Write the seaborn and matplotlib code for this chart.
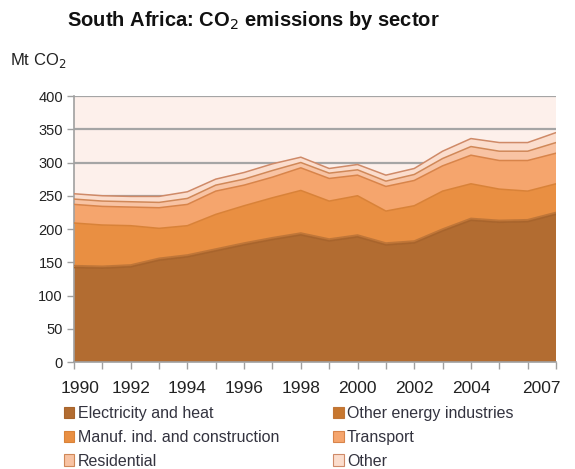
import matplotlib
matplotlib.use("Agg")
import matplotlib.pyplot as plt
from matplotlib.patches import Patch
from matplotlib.transforms import ScaledTranslation
import numpy as np
import pandas as pd
import seaborn as sns

years = list(range(1990, 2008))
electricity = [142, 141, 143, 153, 158, 167, 176, 184, 191, 182, 188, 176, 179, 197, 213, 210, 211, 222]
other_energy = [3, 3, 3, 3, 3, 3, 3, 3, 3, 3, 3, 3, 3, 3, 3, 3, 3, 3]
manufacturing = [64, 62, 59, 45, 44, 52, 56, 60, 64, 57, 59, 48, 53, 57, 52, 47, 43, 43]
transport = [28, 28, 28, 31, 32, 35, 31, 31, 34, 34, 31, 37, 38, 38, 43, 43, 46, 46]
residential = [8, 8, 8, 8, 9, 9, 9, 10, 8, 8, 8, 8, 9, 11, 13, 14, 14, 16]
other = [8, 8, 8, 9, 10, 9, 10, 10, 8, 7, 8, 9, 9, 11, 12, 13, 13, 15]

sectors = ["Electricity and heat", "Other energy industries",
           "Manuf. ind. and construction", "Transport", "Residential", "Other"]
series = [electricity, other_energy, manufacturing, transport, residential, other]
fills = ["#B26C31", "#BA7134", "#E98F42", "#F5A56D", "#F8C3A3", "#FBDDCD"]
edges = ["#A8642C", "#C07638", "#D98238", "#D8844A", "#D08858", "#CF8A68"]
legend_fills = ["#B26C31", "#C7772F", "#E98F42", "#F5A56D", "#F8C3A3", "#FBDDCD"]

tick_years = [1990, 1992, 1994, 1996, 1998, 2000, 2002, 2004, 2007]

df = pd.DataFrame({"year": years})
for name, vals in zip(sectors, series):
    df[name] = vals

sns.set_theme(style="white")
plt.rcParams["font.family"] = ["Liberation Sans", "DejaVu Sans"]
text_col = "#33333F"

fig = plt.figure(figsize=(5.75, 4.69), dpi=100)
ax = fig.add_axes([74 / 575, 1 - 362 / 469, (556 - 74) / 575, (362 - 96) / 469])
ax.set_facecolor("#FDF0EB")

# horizontal gridlines behind the stacked areas
for v in range(50, 401, 50):
    ax.axhline(v, color="#A5A5A5", lw=1.6, zorder=0)

base = np.zeros(len(years))
for name, fc, ec in zip(sectors, fills, edges):
    top = base + df[name].to_numpy()
    ax.fill_between(df["year"], base, top, facecolor=fc, edgecolor="none", zorder=2)
    sns.lineplot(x=df["year"], y=top, ax=ax, color=ec, lw=1.1, zorder=3, legend=False)
    base = top

ax.set_xlim(1990, 2007)
ax.set_ylim(0, 400)
ax.set_xlabel("")
ax.set_ylabel("")

ax.set_yticks(range(0, 401, 50))
ax.tick_params(axis="y", labelsize=10.5, labelcolor="#222222", length=5, width=1,
               direction="out", left=True, pad=3, color="#A0A0A0")
ax.set_xticks(years, minor=True)
ax.set_xticks(tick_years)
ax.set_xticklabels([str(y) for y in tick_years])
ax.tick_params(axis="x", which="both", length=5, width=1, direction="out",
               bottom=True, color="#A0A0A0")
ax.tick_params(axis="x", which="major", labelsize=12.5, labelcolor="#222222", pad=9)
xl = ax.get_xticklabels()
xl[0].set_transform(xl[0].get_transform() + ScaledTranslation(6 / 100, 0, fig.dpi_scale_trans))
xl[-1].set_transform(xl[-1].get_transform() + ScaledTranslation(-15 / 100, 0, fig.dpi_scale_trans))

for s in ["top", "right"]:
    ax.spines[s].set_visible(False)
for s in ["left", "bottom"]:
    ax.spines[s].set_color("#A0A0A0")
    ax.spines[s].set_linewidth(1.2)

fig.text(253 / 575, 1 - 20 / 469, "South Africa: CO$_2$ emissions by sector",
         ha="center", va="center", fontsize=14.5, fontweight="bold", color="#111111")
fig.text(10 / 575, 1 - 60 / 469, "Mt CO$_2$", ha="left", va="center",
         fontsize=12, color="#222222")

handles = [Patch(facecolor=fc, edgecolor=ec, lw=0.8) for fc, ec in zip(legend_fills, edges)]
order = [0, 2, 4, 1, 3, 5]
fig.legend([handles[i] for i in order], [sectors[i] for i in order],
           loc="upper left", bbox_to_anchor=(64 / 575, 1 - 406 / 469), ncol=2,
           frameon=False, fontsize=11.5, handlelength=0.65, handleheight=0.7,
           handletextpad=0.2, labelspacing=0.55, columnspacing=3.4,
           labelcolor=text_col, borderaxespad=0, borderpad=0)

fig.savefig("out.png", dpi=100)
